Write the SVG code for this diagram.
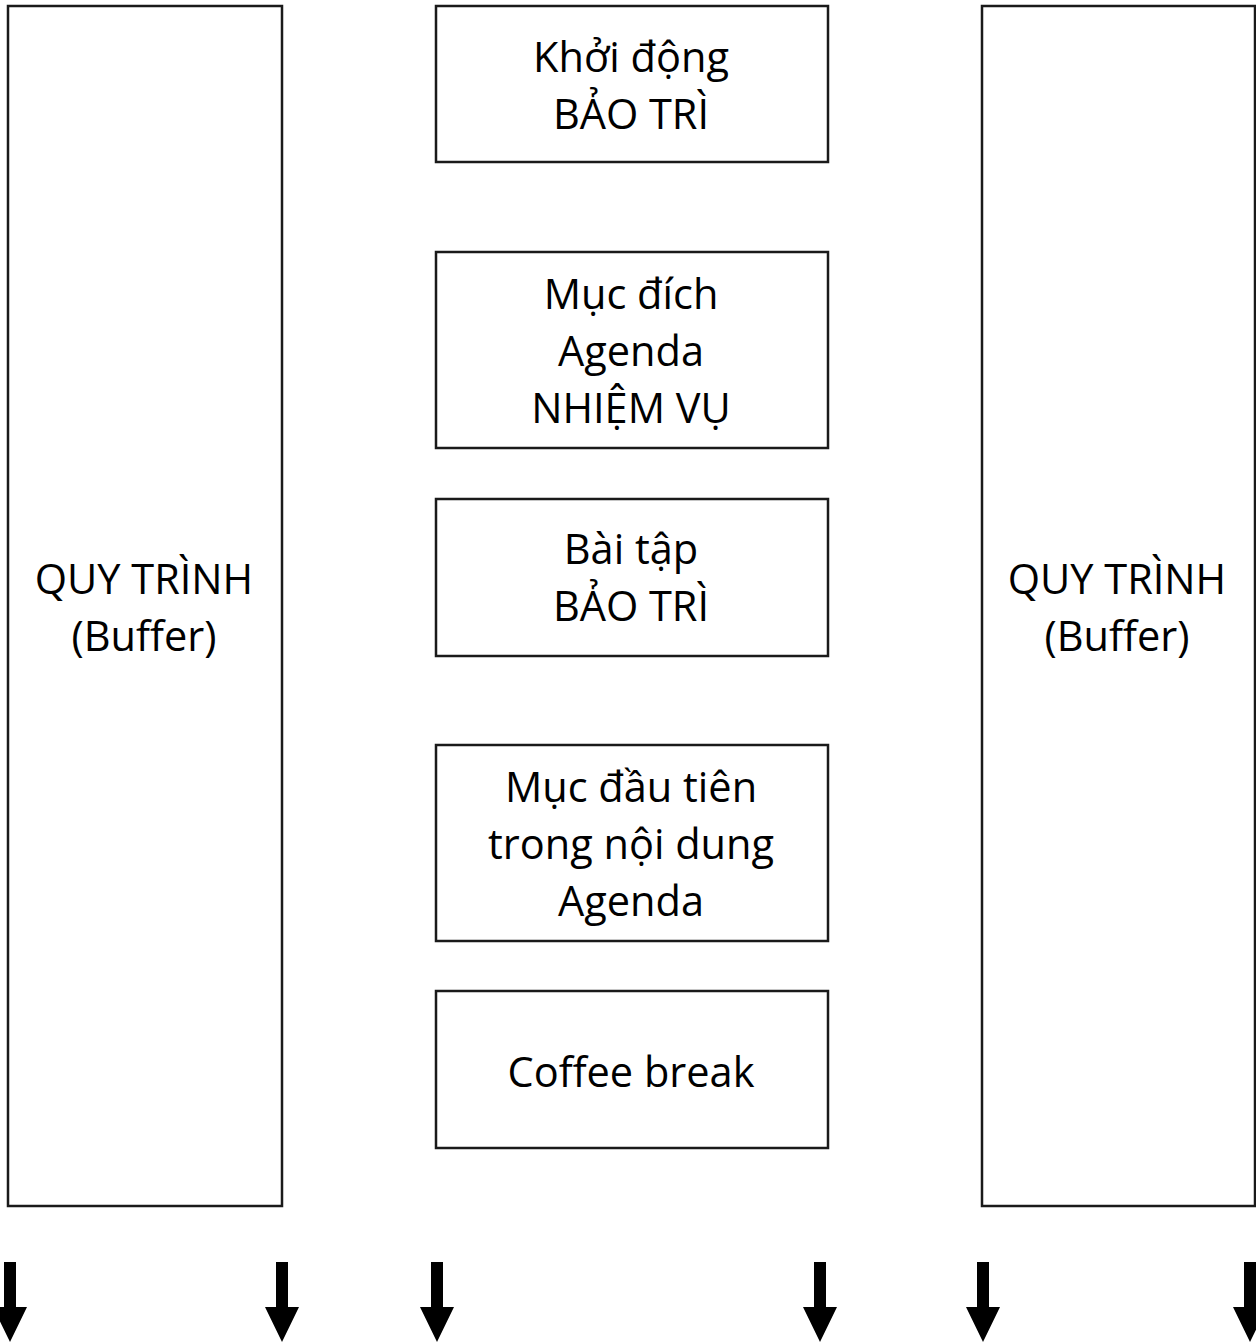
<svg xmlns="http://www.w3.org/2000/svg" width="1256" height="1343" viewBox="0 0 1256 1343">
  <style>
    .box { fill: #ffffff; stroke: #1a1a1a; stroke-width: 2.5; }
    .lbl { font-family: "Open Sans", "Noto Sans", "DejaVu Sans", sans-serif; font-size: 41.5px; fill: #000000; text-anchor: middle; }
    .arrow { fill: #000000; }
  </style>
  <defs>
    <path id="down" d="M -6 0 H 6 V 45 H 17 L 0 80 L -17 45 H -6 Z"/>
  </defs>
  <rect width="1256" height="1343" fill="#ffffff"/>

  <g id="buffer-left">
    <rect class="box" x="8" y="6" width="274" height="1200"/>
    <text class="lbl" x="144" y="594">QUY TRÌNH</text>
    <text class="lbl" x="144" y="651">(Buffer)</text>
  </g>

  <g id="buffer-right">
    <rect class="box" x="982" y="6" width="273" height="1200"/>
    <text class="lbl" x="1117" y="594">QUY TRÌNH</text>
    <text class="lbl" x="1117" y="651">(Buffer)</text>
  </g>

  <g id="warmup">
    <rect class="box" x="436" y="6" width="392" height="156"/>
    <text class="lbl" x="631" y="72">Khởi động</text>
    <text class="lbl" x="631" y="129">BẢO TRÌ</text>
  </g>

  <g id="purpose">
    <rect class="box" x="436" y="252" width="392" height="196"/>
    <text class="lbl" x="631" y="309">Mục đích</text>
    <text class="lbl" x="631" y="366">Agenda</text>
    <text class="lbl" x="631" y="423">NHIỆM VỤ</text>
  </g>

  <g id="exercise">
    <rect class="box" x="436" y="499" width="392" height="157"/>
    <text class="lbl" x="631" y="564">Bài tập</text>
    <text class="lbl" x="631" y="621">BẢO TRÌ</text>
  </g>

  <g id="first-item">
    <rect class="box" x="436" y="745" width="392" height="196"/>
    <text class="lbl" x="631" y="802">Mục đầu tiên</text>
    <text class="lbl" x="631" y="859">trong nội dung</text>
    <text class="lbl" x="631" y="916">Agenda</text>
  </g>

  <g id="coffee-break">
    <rect class="box" x="436" y="991" width="392" height="157"/>
    <text class="lbl" x="631" y="1087">Coffee break</text>
  </g>

  <g id="connectors">
    <use href="#down" class="arrow" x="10" y="1262"/>
    <use href="#down" class="arrow" x="282" y="1262"/>
    <use href="#down" class="arrow" x="437" y="1262"/>
    <use href="#down" class="arrow" x="820" y="1262"/>
    <use href="#down" class="arrow" x="983" y="1262"/>
    <use href="#down" class="arrow" x="1250" y="1262"/>
  </g>
</svg>
